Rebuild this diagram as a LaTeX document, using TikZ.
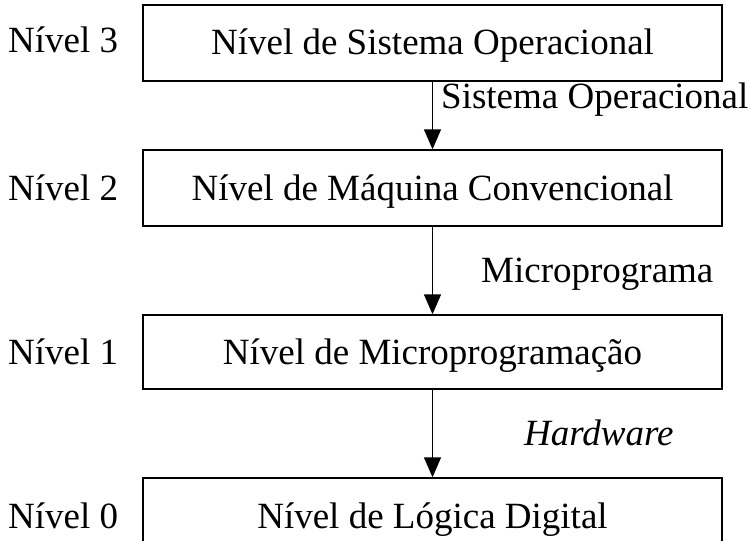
\documentclass[tikz,border=0pt]{standalone}
\usepackage{fontspec}
\setmainfont{Liberation Serif}
\usetikzlibrary{arrows.meta}
\begin{document}
\begin{tikzpicture}[x=1pt,y=-1pt,
  lvlbox/.style={draw,line width=1.4pt,minimum width=579pt,inner sep=0pt,font=\fontsize{37}{40}\selectfont},
  lbl/.style={font=\fontsize{37}{40}\selectfont,inner sep=0pt},
  arr/.style={line width=1.4pt,-{Triangle[length=20pt,width=17pt]}}]
\useasboundingbox (0,0) rectangle (750,541);
\clip (0,0) rectangle (750,541);
\node[lvlbox,minimum height=76pt] (b3) at (432.5,43) {};
\node[lvlbox,minimum height=76pt] (b2) at (432.5,188) {};
\node[lvlbox,minimum height=74pt] (b1) at (432.5,352) {};
\node[lvlbox,minimum height=100pt] (b0) at (432.5,528) {};
\node[lbl,anchor=base] (t3) at (432.5,54) {Nível de Sistema Operacional};
\node[lbl,anchor=base] (t2) at (432.5,200) {Nível de Máquina Convencional};
\node[lbl,anchor=base] (t1) at (432.5,364) {Nível de Microprogramação};
\node[lbl,anchor=base] (t0) at (432.5,528) {Nível de Lógica Digital};
\node[lbl,anchor=base west] (l3) at (8,52) {Nível 3};
\node[lbl,anchor=base west] (l2) at (8,200) {Nível 2};
\node[lbl,anchor=base west] (l1) at (8,364) {Nível 1};
\node[lbl,anchor=base west] (l0) at (8,528) {Nível 0};
\draw[arr] (b3.south) -- (b2.north);
\draw[arr] (b2.south) -- (b1.north);
\draw[arr] (b1.south) -- (b0.north);
\node[lbl,anchor=base west] (a3) at (441,108) {Sistema Operacional};
\node[lbl,anchor=base west] (a2) at (481,282) {Microprograma};
\node[lbl,anchor=base west] (a1) at (524,445) {\itshape Hardware};
\end{tikzpicture}
\end{document}
